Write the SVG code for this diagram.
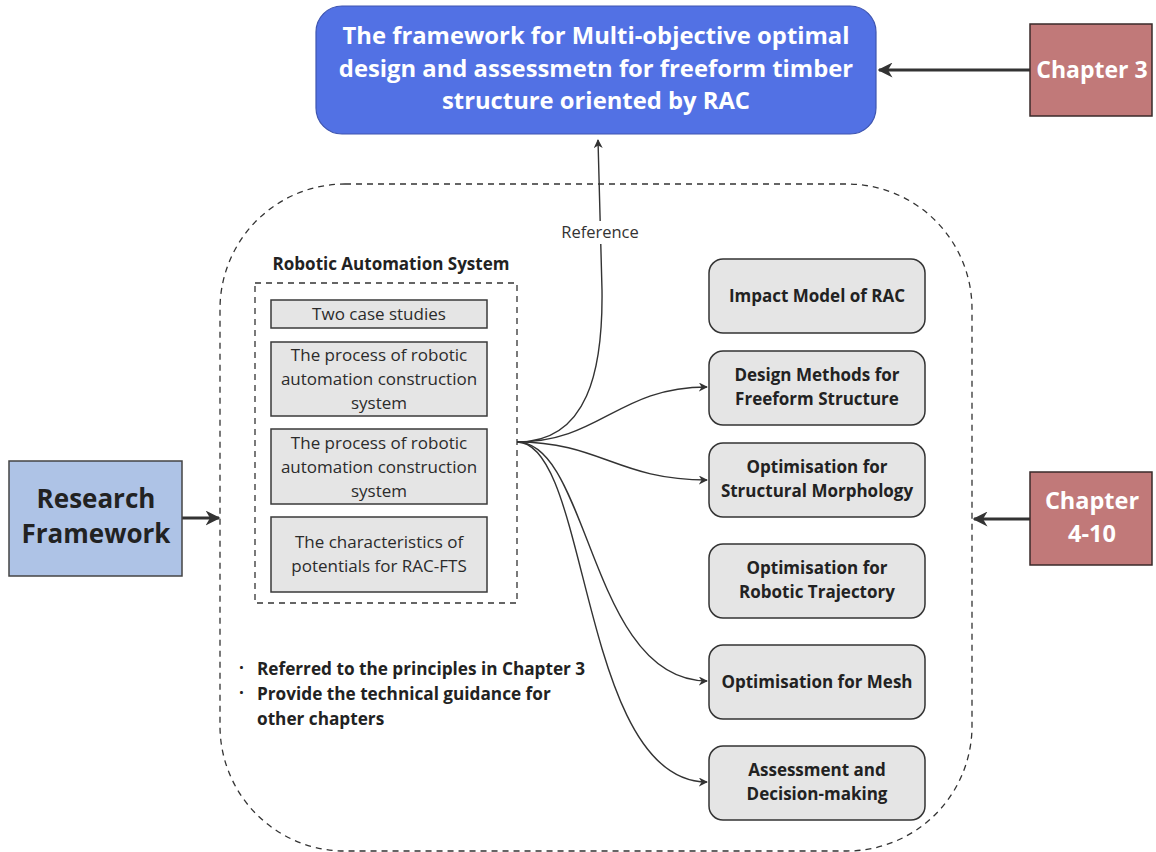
<svg xmlns="http://www.w3.org/2000/svg" width="1156" height="852" viewBox="0 0 1156 852">
  <defs>
    <style>
      text { font-family: "Open Sans", "Noto Sans", "Liberation Sans", sans-serif; }
      .item { fill: #e5e5e5; stroke: #3a3a3a; stroke-width: 1.5; }
      .task { fill: #e5e5e5; stroke: #333; stroke-width: 1.5; }
      .t16 { font-size: 17px; fill: #2b2b2b; text-anchor: middle; }
      .tb16 { font-size: 17px; font-weight: 700; fill: #222; text-anchor: middle; }
      .note { font-size: 17.2px; font-weight: 700; fill: #222; }
      .chap { fill: #c17979; stroke: #3a2a2a; stroke-width: 1.5; }
      .thin { fill: none; stroke: #333; stroke-width: 1.4; }
      .thick { fill: none; stroke: #333; stroke-width: 3; }
    </style>
    <marker id="ah" viewBox="0 0 10 10" refX="9" refY="5" markerWidth="9" markerHeight="9" markerUnits="userSpaceOnUse" orient="auto">
      <path d="M0,0 L10,5 L0,10 L3,5 Z" fill="#333"/>
    </marker>
    <marker id="ahb" viewBox="0 0 10 10" refX="9" refY="5" markerWidth="5" markerHeight="5" orient="auto">
      <path d="M0,0 L10,5 L0,10 L3,5 Z" fill="#333"/>
    </marker>
  </defs>

  <rect width="1156" height="852" fill="#fff"/>

  <!-- outer dashed region -->
  <g id="region">
    <rect x="220" y="184" width="752" height="667" rx="125" ry="125" fill="none" stroke="#333" stroke-width="1.3" stroke-dasharray="6 5"/>
  </g>

  <!-- connectors -->
  <g id="connectors">
    <path class="thin" d="M517,442 C588,442 603,370 602,290 L598,140" marker-end="url(#ah)"/>
    <path class="thin" d="M517,442 C600,442 618,387 707,387" marker-end="url(#ah)"/>
    <path class="thin" d="M517,442 C600,442 618,480 707,480" marker-end="url(#ah)"/>
    <path class="thin" d="M517,442 C590,442 590,681 707,681" marker-end="url(#ah)"/>
    <path class="thin" d="M517,442 C590,442 580,782 707,782" marker-end="url(#ah)"/>
    <path class="thick" d="M1030,70 L879,70" marker-end="url(#ahb)"/>
    <path class="thick" d="M182,518 L219,518" marker-end="url(#ahb)"/>
    <path class="thick" d="M1030,519 L974,519" marker-end="url(#ahb)"/>
  </g>

  <g id="reference-label">
    <rect x="554" y="221" width="92" height="23" fill="#fff"/>
    <text x="600" y="238" font-size="16.5" fill="#333" text-anchor="middle">Reference</text>
  </g>

  <!-- top framework node -->
  <g id="framework">
    <rect x="316" y="6" width="560" height="128" rx="26" fill="#5271e4" stroke="#3e55b0" stroke-width="1.2"/>
    <text x="596" y="44" font-size="23.8" font-weight="700" fill="#fff" text-anchor="middle">The framework for Multi-objective optimal</text>
    <text x="596" y="77" font-size="23.8" font-weight="700" fill="#fff" text-anchor="middle">design and assessmetn for freeform timber</text>
    <text x="596" y="109" font-size="23.8" font-weight="700" fill="#fff" text-anchor="middle">structure oriented by RAC</text>
  </g>

  <g id="chapter3">
    <rect class="chap" x="1030" y="24" width="122" height="92"/>
    <text x="1092" y="78" font-size="23" font-weight="700" fill="#fff" text-anchor="middle">Chapter 3</text>
  </g>

  <g id="research-framework">
    <rect x="9" y="461" width="173" height="115" fill="#aec3e6" stroke="#444" stroke-width="1.5"/>
    <text x="96" y="508" font-size="26" font-weight="700" fill="#222" text-anchor="middle">Research</text>
    <text x="96" y="543" font-size="26" font-weight="700" fill="#222" text-anchor="middle">Framework</text>
  </g>

  <g id="chapter4-10">
    <rect class="chap" x="1030" y="472" width="122" height="93"/>
    <text x="1092" y="509" font-size="23.5" font-weight="700" fill="#fff" text-anchor="middle">Chapter</text>
    <text x="1092" y="542" font-size="23.5" font-weight="700" fill="#fff" text-anchor="middle">4-10</text>
  </g>

  <!-- robotic automation system group -->
  <g id="ras">
    <text class="tb16" x="391" y="270">Robotic Automation System</text>
    <rect x="255" y="283" width="262" height="320" fill="none" stroke="#333" stroke-width="1.3" stroke-dasharray="6 5"/>
  </g>

  <g id="case-studies">
    <rect class="item" x="271" y="300" width="216" height="28"/>
    <text class="t16" x="379" y="320">Two case studies</text>
  </g>

  <g id="process-1">
    <rect class="item" x="271" y="342" width="216" height="74"/>
    <text class="t16" x="379" y="361">The process of robotic</text>
    <text class="t16" x="379" y="385">automation construction</text>
    <text class="t16" x="379" y="409">system</text>
  </g>

  <g id="process-2">
    <rect class="item" x="271" y="429" width="216" height="75"/>
    <text class="t16" x="379" y="449">The process of robotic</text>
    <text class="t16" x="379" y="473">automation construction</text>
    <text class="t16" x="379" y="497">system</text>
  </g>

  <g id="characteristics">
    <rect class="item" x="271" y="517" width="216" height="75"/>
    <text class="t16" x="379" y="548">The characteristics of</text>
    <text class="t16" x="379" y="572">potentials for RAC-FTS</text>
  </g>

  <g id="notes">
    <text class="note" x="239" y="674">·</text>
    <text class="note" x="257" y="675">Referred to the principles in Chapter 3</text>
    <text class="note" x="239" y="699">·</text>
    <text class="note" x="257" y="700">Provide the technical guidance for</text>
    <text class="note" x="257" y="725">other chapters</text>
  </g>

  <!-- right-hand task nodes -->
  <g id="impact-model">
    <rect class="task" x="709" y="259" width="216" height="74" rx="14"/>
    <text class="tb16" x="817" y="302">Impact Model of RAC</text>
  </g>

  <g id="design-methods">
    <rect class="task" x="709" y="351" width="216" height="74" rx="14"/>
    <text class="tb16" x="817" y="381">Design Methods for</text>
    <text class="tb16" x="817" y="405">Freeform Structure</text>
  </g>

  <g id="structural-morphology">
    <rect class="task" x="709" y="443" width="216" height="74" rx="14"/>
    <text class="tb16" x="817" y="473">Optimisation for</text>
    <text class="tb16" x="817" y="497">Structural Morphology</text>
  </g>

  <g id="robotic-trajectory">
    <rect class="task" x="709" y="544" width="216" height="74" rx="14"/>
    <text class="tb16" x="817" y="574">Optimisation for</text>
    <text class="tb16" x="817" y="598">Robotic Trajectory</text>
  </g>

  <g id="mesh">
    <rect class="task" x="709" y="645" width="216" height="74" rx="14"/>
    <text class="tb16" x="817" y="688">Optimisation for Mesh</text>
  </g>

  <g id="assessment">
    <rect class="task" x="709" y="746" width="216" height="74" rx="14"/>
    <text class="tb16" x="817" y="776">Assessment and</text>
    <text class="tb16" x="817" y="800">Decision-making</text>
  </g>
</svg>
